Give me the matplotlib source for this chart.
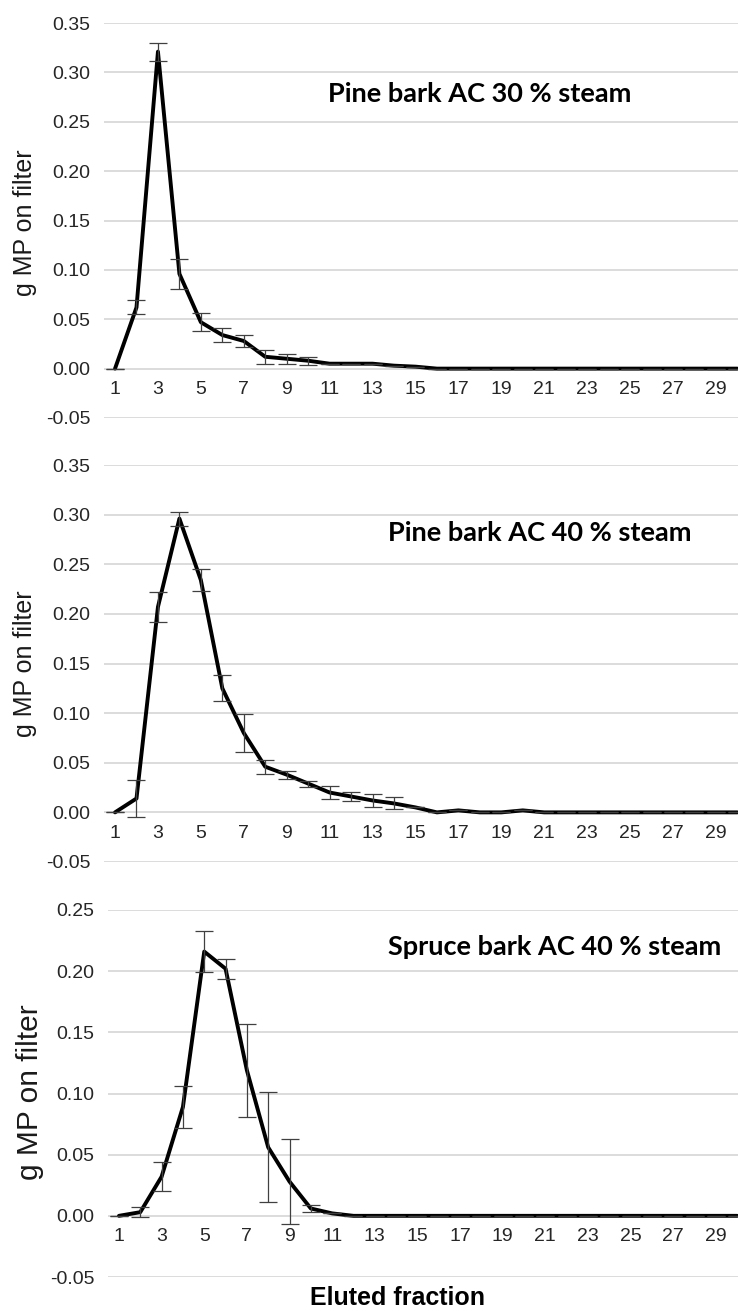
import matplotlib
matplotlib.use("Agg")
import matplotlib.pyplot as plt
import numpy as np

fractions = list(range(1, 31))

pine30 = [0.0, 0.062, 0.321, 0.096, 0.047, 0.034, 0.028, 0.012, 0.010, 0.008,
          0.005, 0.005, 0.005, 0.003, 0.002] + [0.0] * 15
pine30_err = [0.0, 0.007, 0.009, 0.015, 0.009, 0.0075, 0.006, 0.007, 0.005, 0.004,
              0.0, 0.0, 0.0, 0.0, 0.0] + [0.0] * 15

pine40 = [0.0, 0.014, 0.207, 0.296, 0.234, 0.125, 0.080, 0.046, 0.038, 0.029,
          0.020, 0.016, 0.012, 0.009, 0.005, 0.0, 0.002, 0.0, 0.0, 0.002,
          0.0] + [0.0] * 9
pine40_err = [0.0, 0.019, 0.015, 0.007, 0.011, 0.013, 0.019, 0.007, 0.004, 0.003,
              0.007, 0.005, 0.007, 0.006, 0.0, 0.0, 0.0, 0.0, 0.0, 0.0,
              0.0] + [0.0] * 9

spruce40 = [0.0, 0.003, 0.032, 0.089, 0.216, 0.202, 0.119, 0.056, 0.028, 0.006,
            0.002, 0.0] + [0.0] * 18
spruce40_err = [0.0, 0.004, 0.012, 0.017, 0.017, 0.008, 0.038, 0.045, 0.035, 0.003,
                0.0, 0.0] + [0.0] * 18

titles = ["Pine bark AC 30 % steam", "Pine bark AC 40 % steam", "Spruce bark AC 40 % steam"]
ylabel = "g MP on filter"
xlabel = "Eluted fraction"
xtick_vals = list(range(1, 30, 2))

W, H = 738, 1311
fig = plt.figure(figsize=(W / 100, H / 100), dpi=100)

def px_axes(left_px, unit_px, top_px, bot_px):
    left = left_px / W
    width = 30 * unit_px / W
    bottom = 1 - bot_px / H
    height = (bot_px - top_px) / H
    return fig.add_axes([left, bottom, width, height])

panels = [
    dict(y=pine30, e=pine30_err, yl=(-0.05, 0.35), top=23, bot=418, left=104.3, unit=21.46,
         title=titles[0], tpos=(480, 94), ylpos=(25, 223), ylsize=18),
    dict(y=pine40, e=pine40_err, yl=(-0.05, 0.35), top=465, bot=862, left=104.3, unit=21.46,
         title=titles[1], tpos=(540, 533), ylpos=(25, 664), ylsize=18),
    dict(y=spruce40, e=spruce40_err, yl=(-0.05, 0.25), top=910, bot=1277, left=108.3, unit=21.32,
         title=titles[2], tpos=(555, 947), ylpos=(30, 1092), ylsize=21.5),
]

tick_family = ["Liberation Sans", "DejaVu Sans"]
tick_size = 14

for p in panels:
    ax = px_axes(p["left"], p["unit"], p["top"], p["bot"])
    ax.set_xlim(0.5, 30.5)
    ax.set_ylim(*p["yl"])
    ax.set_yticks(np.round(np.arange(p["yl"][0], p["yl"][1] + 1e-9, 0.05), 2))
    ax.yaxis.set_major_formatter(matplotlib.ticker.FormatStrFormatter("%.2f"))
    ax.set_xticks(xtick_vals)
    ax.grid(axis="y", color="#d9d9d9", linewidth=1.3)
    ax.set_axisbelow(True)
    for s in ["top", "right", "left"]:
        ax.spines[s].set_visible(False)
    ax.spines["bottom"].set_position(("data", 0))
    ax.spines["bottom"].set_visible(False)
    ax.tick_params(axis="both", length=0, colors="#262626")
    ax.tick_params(axis="y", pad=10)
    ax.tick_params(axis="x", pad=9)
    for lab in ax.get_xticklabels() + ax.get_yticklabels():
        lab.set_fontfamily(tick_family)
        lab.set_fontsize(tick_size)
    ax.errorbar(fractions, p["y"], yerr=p["e"], fmt="none", ecolor="#404040",
                elinewidth=0.9, capsize=6.5, capthick=0.9, zorder=3)
    ax.plot(fractions, p["y"], color="black", linewidth=2.8, zorder=2,
            solid_joinstyle="round", solid_capstyle="round")
    ax.patch.set_alpha(0)
    fig.text(p["tpos"][0] / W, 1 - p["tpos"][1] / H, p["title"], ha="center", va="center",
             fontsize=19.5, fontweight="bold", family=["Lato", "DejaVu Sans"])
    fig.text(p["ylpos"][0] / W, 1 - p["ylpos"][1] / H, ylabel, ha="center", va="center",
             rotation=90, fontsize=p["ylsize"], family=tick_family, color="#1a1a1a")

fig.text(397 / W, 1 - 1298 / H, xlabel, ha="center", va="center", fontsize=18,
         fontweight="bold", family=tick_family)

fig.savefig("out.png", dpi=100, facecolor="white")
